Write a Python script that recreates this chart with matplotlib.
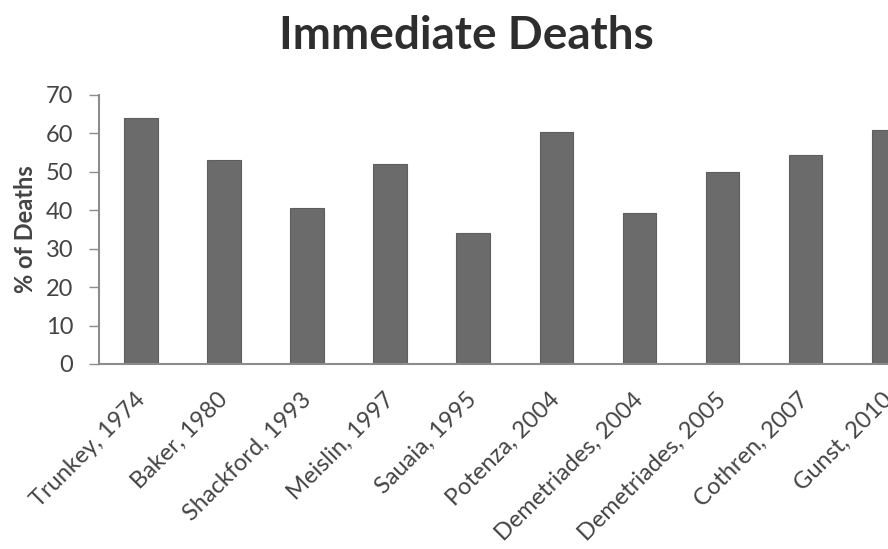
import matplotlib
matplotlib.use("Agg")
import matplotlib.pyplot as plt
from matplotlib import transforms

studies = ["Trunkey, 1974", "Baker, 1980", "Shackford, 1993", "Meislin, 1997",
           "Sauaia, 1995", "Potenza, 2004", "Demetriades, 2004",
           "Demetriades, 2005", "Cothren, 2007", "Gunst, 2010"]
immediate_pct = [64, 53, 40.5, 52, 34, 60.4, 39.3, 50, 54.3, 61]
y_ticks = [0, 10, 20, 30, 40, 50, 60, 70]

plt.rcParams['font.family'] = ['Lato', 'DejaVu Sans']
text_col = "#444444"
axis_col = "#8c8c8c"

fig = plt.figure(figsize=(8.88, 5.49), dpi=100)
ax = fig.add_axes([0.112, 0.337, 0.935, 0.49])

x = range(len(studies))
ax.bar(x, immediate_pct, width=0.4, color="#6b6b6b", edgecolor="#5e5e5e", linewidth=0.8)

ax.set_xlim(-0.5, len(studies) - 0.5)
ax.set_ylim(0, 70)
ax.set_yticks(y_ticks)
ax.set_yticklabels([str(t) for t in y_ticks], fontsize=17, color=text_col)
ax.tick_params(axis='y', direction='out', length=7, width=1, color=axis_col, pad=12)
ax.tick_params(axis='x', length=0, pad=18)

ax.set_xticks(list(x))
ax.set_xticklabels(studies, rotation=45, ha='right', rotation_mode='anchor',
                   fontsize=17, color=text_col)
offset = transforms.ScaledTranslation(-7 / 100, 0, fig.dpi_scale_trans)
for lbl in ax.get_xticklabels():
    lbl.set_transform(lbl.get_transform() + offset)

for side in ("top", "right"):
    ax.spines[side].set_visible(False)
for side in ("left", "bottom"):
    ax.spines[side].set_color(axis_col)
    ax.spines[side].set_linewidth(1.5)

ax.set_ylabel("% of Deaths", fontsize=17, fontweight='bold', color=text_col, labelpad=6)

fig.text(0.525, 0.935, "Immediate Deaths", ha='center', va='center',
         fontsize=33, fontweight='bold', color="#2e2e2e")

fig.savefig("out.png", dpi=100)
